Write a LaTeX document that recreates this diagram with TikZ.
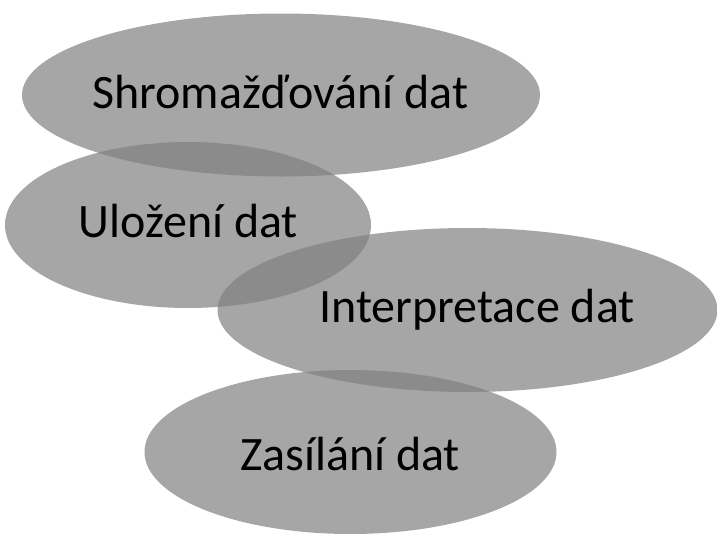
\documentclass[tikz,border=0pt]{standalone}
\usepackage{fontspec}
\setmainfont{Carlito}
\usetikzlibrary{shapes.geometric}
\begin{document}
\begin{tikzpicture}[x=1pt,y=-1pt,
  blob/.style={ellipse,inner sep=0pt,fill={rgb,255:red,128;green,128;blue,128},fill opacity=0.7,draw=none},
  lbl/.style={anchor=base,inner sep=0pt,font=\fontsize{48}{57}\selectfont,text=black}]
\useasboundingbox (0,0) rectangle (717,533);
\node[blob,minimum width=518pt,minimum height=163pt] (e1) at (281,95) {};
\node[blob,minimum width=366pt,minimum height=166pt] (e2) at (188,225) {};
\node[blob,minimum width=500pt,minimum height=164pt] (e3) at (467.5,310) {};
\node[blob,minimum width=412pt,minimum height=164pt] (e4) at (350.5,452) {};
\node[lbl] (t1) at (280.5,108) {Shromažďování dat};
\node[lbl] (t2) at (188.5,237) {Uložení dat};
\node[lbl] (t3) at (477,322) {Interpretace dat};
\node[lbl] (t4) at (350,470) {Zasílání dat};
\end{tikzpicture}
\end{document}
